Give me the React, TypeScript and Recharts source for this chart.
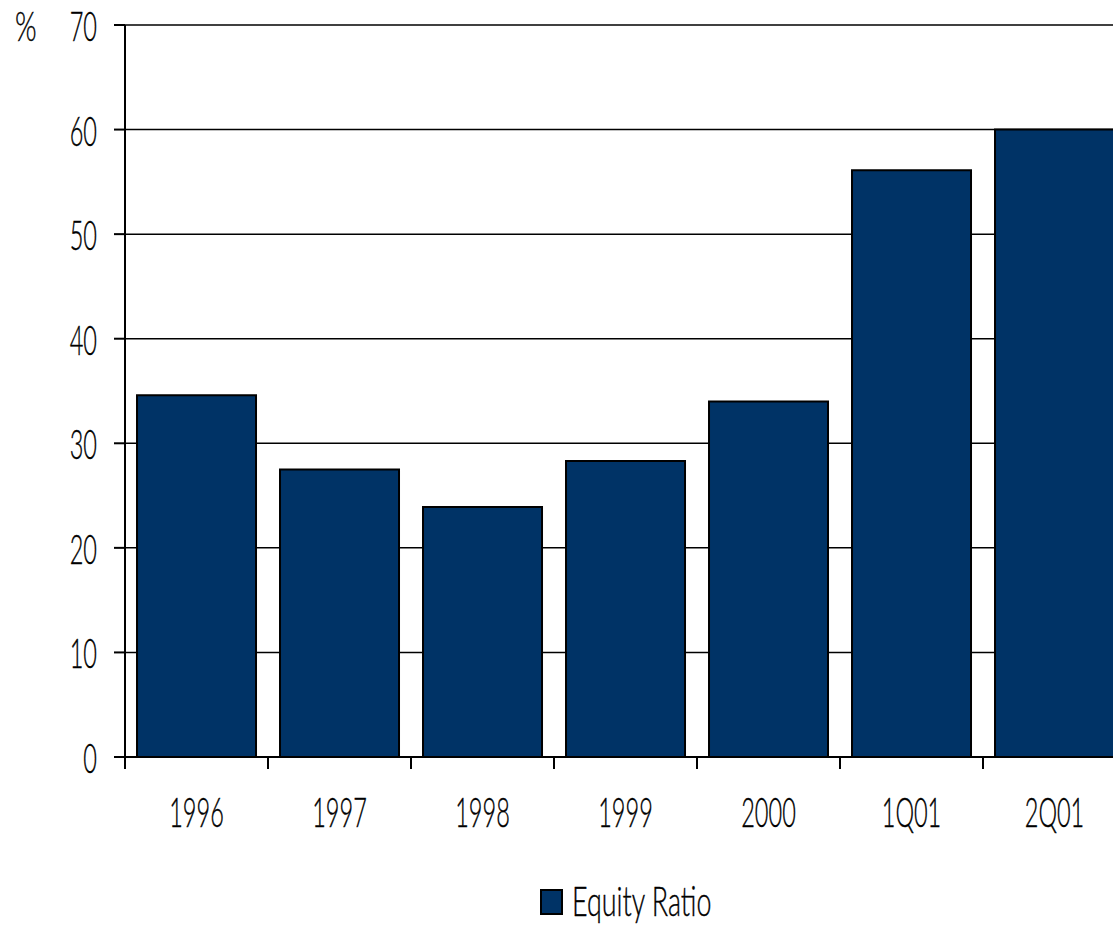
import React from 'react';
import { BarChart, Bar, XAxis, YAxis, CartesianGrid, Legend } from 'recharts';

const categories = ['1996', '1997', '1998', '1999', '2000', '1Q01', '2Q01'];
const equityRatio = [34.6, 27.5, 23.9, 28.3, 34.0, 56.1, 60.0];
const yTicks = [0, 10, 20, 30, 40, 50, 60, 70];
const seriesName = 'Equity Ratio';
const unitLabel = '%';

const data = categories.map((c, i) => ({ year: c, equity: equityRatio[i] }));

const FONT = "Lato, 'Liberation Sans', sans-serif";
const FW = 300;
const NAVY = '#003366';
const SX = 0.56;
const FS = 42;

const YTick = (props: any) => {
  const { x, y, payload } = props;
  return (
    <text
      transform={`translate(${x},${y}) scale(${SX},1)`}
      textAnchor="end"
      dy="0.38em"
      fontSize={FS}
      fontWeight={FW}
      fontFamily={FONT}
      fill="#000"
      stroke="#000"
      strokeWidth={0.4}
    >
      {payload.value}
    </text>
  );
};

const XTick = (props: any) => {
  const { x, y, payload } = props;
  const off = payload && typeof payload.offset === 'number' && payload.offset > 0 ? payload.offset : 71.5;
  return (
    <g>
      <line x1={x - off} x2={x - off} y1={y - 12} y2={y} stroke="#000" strokeWidth={2} />
      <text
        transform={`translate(${x},${y + 58}) scale(${SX},1)`}
        textAnchor="middle"
        fontSize={FS}
        fontWeight={FW}
        fontFamily={FONT}
        fill="#000"
        stroke="#000"
        strokeWidth={0.4}
      >
        {payload.value}
      </text>
    </g>
  );
};

const UnitLabel = (props: any) => {
  const vb = props.viewBox || { x: 0, y: 25 };
  return (
    <text
      transform={`translate(${vb.x + 15},${vb.y}) scale(0.66,1)`}
      dy="0.38em"
      fontSize={FS}
      fontWeight={FW}
      fontFamily={FONT}
      fill="#000"
      stroke="#000"
      strokeWidth={0.4}
    >
      {unitLabel}
    </text>
  );
};

const LegendContent = (props: any) => {
  const item = (props.payload && props.payload[0]) || { value: seriesName, color: NAVY };
  return (
    <div style={{ height: 92, position: 'relative' }}>
      <svg width={300} height={56} style={{ position: 'absolute', left: 540, top: 36 }}>
        <rect x={1} y={17} width={21} height={24} fill={item.color || NAVY} stroke="#000" strokeWidth={2} />
        <text
          transform="translate(32,43) scale(0.64,1)"
          fontSize={FS}
          fontWeight={FW}
          fontFamily={FONT}
          fill="#000"
          stroke="#000"
          strokeWidth={0.4}
        >
          {item.value}
        </text>
      </svg>
    </div>
  );
};

export default function App() {
  return (
    <div style={{ position: 'absolute', left: 0, top: 0, width: 1113, height: 929, overflow: 'hidden', background: '#fff' }}>
      <BarChart
        width={1130}
        height={929}
        data={data}
        margin={{ top: 25, right: 4, left: 0, bottom: 0 }}
        barCategoryGap="8.4%"
      >
        <CartesianGrid vertical={false} stroke="#000" strokeWidth={1.5} />
        <XAxis
          dataKey="year"
          height={80}
          tickLine={false}
          tickSize={12}
          tickMargin={0}
          axisLine={{ stroke: '#000', strokeWidth: 2 }}
          tick={<XTick />}
          interval={0}
        />
        <YAxis
          width={125}
          domain={[0, 70]}
          ticks={yTicks}
          tickSize={11}
          tickMargin={17}
          tickLine={{ stroke: '#000', strokeWidth: 2 }}
          axisLine={{ stroke: '#000', strokeWidth: 2 }}
          tick={<YTick />}
          interval={0}
          label={<UnitLabel />}
        />
        <Legend verticalAlign="bottom" height={92} content={<LegendContent />} />
        <Bar
          dataKey="equity"
          name={seriesName}
          fill={NAVY}
          stroke="#000"
          strokeWidth={2}
          isAnimationActive={false}
        />
      </BarChart>
    </div>
  );
}
